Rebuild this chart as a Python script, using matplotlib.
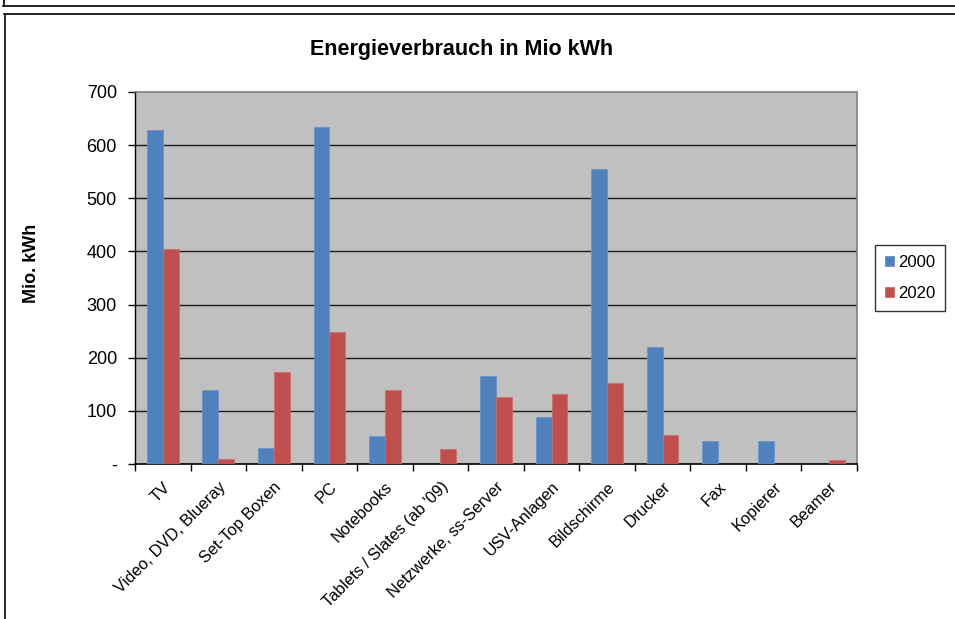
import matplotlib
matplotlib.use("Agg")
import matplotlib.pyplot as plt
from matplotlib.lines import Line2D
import numpy as np

categories = ["TV", "Video, DVD, Blueray", "Set-Top Boxen", "PC", "Notebooks",
              "Tablets / Slates (ab '09)", "Netzwerke, ss-Server", "USV-Anlagen",
              "Bildschirme", "Drucker", "Fax", "Kopierer", "Beamer"]
values_2000 = [628, 139, 31, 635, 52, 0, 166, 88, 555, 221, 44, 44, 0]
values_2020 = [405, 9, 173, 249, 139, 29, 127, 131, 152, 55, 0, 0, 8]
series_names = ["2000", "2020"]
ytick_values = [0, 100, 200, 300, 400, 500, 600, 700]
ytick_labels = ["-", "100", "200", "300", "400", "500", "600", "700"]

plt.rcParams['font.family'] = ['Liberation Sans', 'DejaVu Sans']

W, H = 955, 619
fig = plt.figure(figsize=(W / 100, H / 100), dpi=100)
fig.patch.set_facecolor("white")

def fx(px):
    return px / W

def fy(py):
    return 1 - py / H

# outer frames
fig.add_artist(Line2D([fx(3), fx(955)], [fy(6), fy(6)], color="black", lw=1.2))
fig.add_artist(Line2D([fx(4), fx(4)], [fy(0), fy(6)], color="black", lw=1.2))
fig.add_artist(Line2D([fx(4), fx(955)], [fy(14), fy(14)], color="black", lw=1.2))
fig.add_artist(Line2D([fx(4.5), fx(4.5)], [fy(14), fy(619)], color="black", lw=1.2))

left, right, top, bottom = 135, 857, 92, 464
ax = fig.add_axes([fx(left), fy(bottom), fx(right - left), (bottom - top) / H])
ax.set_facecolor("#C0C0C0")

n = len(categories)
x = np.arange(n)
bw = 1 / 3.5
b1 = ax.bar(x - bw / 2, values_2000, width=bw, color="#4F81BD", edgecolor="#6A93C8",
            linewidth=0.6, label=series_names[0], zorder=3)
b2 = ax.bar(x + bw / 2, values_2020, width=bw, color="#C0504D", edgecolor="#CB6E6B",
            linewidth=0.6, label=series_names[1], zorder=3)
for bars, vals in ((b1, values_2000), (b2, values_2020)):
    for rect, v in zip(bars, vals):
        if v == 0:
            rect.set_visible(False)

ax.set_xlim(-0.5, n - 0.5)
ax.set_ylim(0, 700)
ax.set_yticks(ytick_values)
ax.set_yticklabels(ytick_labels, fontsize=13)
for yv in ytick_values[1:-1]:
    ax.axhline(yv, color="#1a1a1a", lw=1.0, zorder=2)

ax.set_xticks(np.arange(-0.5, n, 1.0), minor=False)
ax.set_xticklabels([])
ax.set_xticks(x, minor=True)
ax.set_xticklabels(categories, minor=True, rotation=45, ha="right",
                   rotation_mode="anchor", fontsize=11.8)
ax.tick_params(axis="x", which="minor", length=0, pad=11)
ax.tick_params(axis="x", which="major", length=5, width=1, color="black")
ax.tick_params(axis="y", length=5, width=1, color="black", pad=8)

for s in ["top", "right"]:
    ax.spines[s].set_color("#808080")
    ax.spines[s].set_linewidth(1.2)
ax.spines["left"].set_color("black")
ax.spines["bottom"].set_color("black")
ax.spines["left"].set_linewidth(1.0)
ax.spines["bottom"].set_linewidth(1.2)

fig.text(fx(462), fy(50), "Energieverbrauch in Mio kWh", ha="center", va="center",
         fontsize=15.5, fontweight="bold")
fig.text(fx(31), fy(263), "Mio. kWh", ha="center", va="center", rotation=90,
         fontsize=13, fontweight="bold")

leg = fig.legend(loc="center", bbox_to_anchor=(fx(910), fy(278)), frameon=True,
                 fancybox=False, edgecolor="black", fontsize=12,
                 handlelength=0.55, handleheight=0.55, handletextpad=0.2,
                 labelspacing=1.0, borderpad=0.6)
leg.get_frame().set_linewidth(1.0)

fig.savefig("out.png", dpi=100)
